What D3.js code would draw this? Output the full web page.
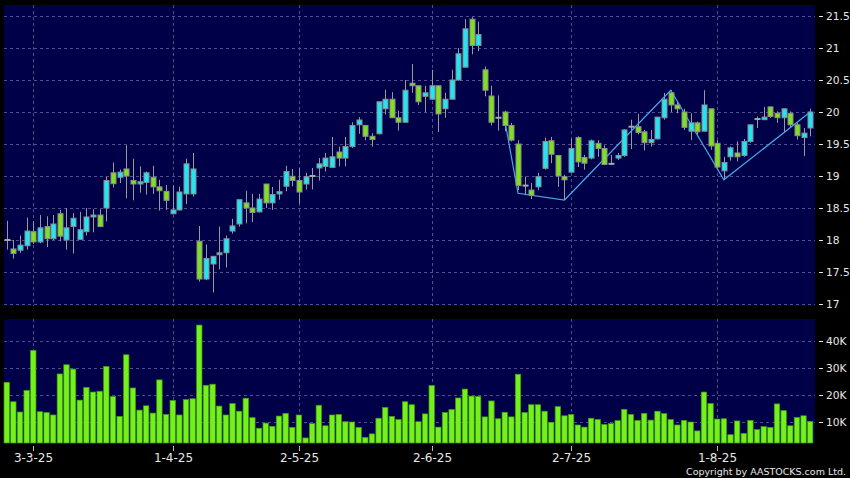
<!DOCTYPE html>
<html><head><meta charset="utf-8">
<script src="https://cdn.jsdelivr.net/npm/d3@7"></script>
<style>html,body{margin:0;padding:0;background:#000;overflow:hidden}svg{display:block}</style>
</head><body><svg id="c" width="850" height="478"></svg>
<script>
const dates = [
"2025-02-25","2025-02-26","2025-02-27","2025-02-28",
"2025-03-03","2025-03-04","2025-03-05","2025-03-06","2025-03-07","2025-03-10","2025-03-11","2025-03-12","2025-03-13","2025-03-14","2025-03-17","2025-03-18","2025-03-19","2025-03-20","2025-03-21","2025-03-24","2025-03-25","2025-03-26","2025-03-27","2025-03-28","2025-03-31",
"2025-04-01","2025-04-02","2025-04-03","2025-04-07","2025-04-08","2025-04-09","2025-04-10","2025-04-11","2025-04-14","2025-04-15","2025-04-16","2025-04-17","2025-04-22","2025-04-23","2025-04-24","2025-04-25","2025-04-28","2025-04-29","2025-04-30",
"2025-05-02","2025-05-06","2025-05-07","2025-05-08","2025-05-09","2025-05-12","2025-05-13","2025-05-14","2025-05-15","2025-05-16","2025-05-19","2025-05-20","2025-05-21","2025-05-22","2025-05-23","2025-05-26","2025-05-27","2025-05-28","2025-05-29","2025-05-30",
"2025-06-02","2025-06-03","2025-06-04","2025-06-05","2025-06-06","2025-06-09","2025-06-10","2025-06-11","2025-06-12","2025-06-13","2025-06-16","2025-06-17","2025-06-18","2025-06-19","2025-06-20","2025-06-23","2025-06-24","2025-06-25","2025-06-26","2025-06-27","2025-06-30",
"2025-07-02","2025-07-03","2025-07-04","2025-07-07","2025-07-08","2025-07-09","2025-07-10","2025-07-11","2025-07-14","2025-07-15","2025-07-16","2025-07-17","2025-07-18","2025-07-21","2025-07-22","2025-07-23","2025-07-24","2025-07-25","2025-07-28","2025-07-29","2025-07-30","2025-07-31",
"2025-08-01","2025-08-04","2025-08-05","2025-08-06","2025-08-07","2025-08-08","2025-08-11","2025-08-12","2025-08-13","2025-08-14","2025-08-15","2025-08-18","2025-08-19","2025-08-20","2025-08-21"];

const open = [18.0,17.86,17.84,17.91,
18.13,17.97,18.21,18.02,18.41,18.0,18.21,18.01,18.13,18.36,
18.39,18.5,19.05,18.98,19.11,18.93,18.875,18.9,18.98,18.83,
18.76,18.41,18.47,18.72,18.72,17.98,17.39,17.625,17.77,17.8,
18.14,18.25,18.58,18.5,18.44,18.875,18.58,18.72,18.84,18.995,
18.93,18.875,19.0,19.125,19.15,19.135,19.375,19.28,19.46,19.8,
19.79,19.62,19.66,20.05,20.2,19.91,19.84,20.45,20.41,20.245,
20.2,20.41,20.05,20.2,20.5,20.7,21.45,21.04,20.66,20.25,
19.91,
20.0,19.79,19.5,18.85,18.78,18.83,19.12,19.55,
19.32,18.99,19.06,19.6,19.29,19.28,19.51,19.43,19.19,19.28,
19.32,19.77,19.77,19.69,19.52,19.58,19.91,20.3,20.11,20.0,
19.7,19.83,19.7,20.05,19.51,19.08,19.3,19.36,19.32,19.54,
19.89,19.88,20.08,19.98,19.91,19.98,19.8,19.6,19.75];

const high = [18.3,18.0,18.07,18.35,
18.29,18.39,18.37,18.39,18.47,18.5,18.42,18.44,18.5,18.48,
18.48,18.99,19.21,19.1,19.48,19.27,19.15,19.07,19.16,18.94,
18.86,18.85,18.83,19.27,19.36,18.22,17.93,17.75,18.21,18.07,
18.33,18.63,18.77,18.72,18.72,18.875,18.83,18.94,19.16,19.11,
19.125,19.05,19.125,19.28,19.36,19.61,19.46,19.61,19.84,19.92,
19.8,19.67,20.16,20.35,20.31,20.02,20.5,20.75,20.41,20.41,
20.66,20.41,20.3,20.66,21.0,21.45,21.48,21.41,20.71,20.41,
20.26,
20.02,19.83,19.56,18.99,18.89,19.05,19.6,19.61,
19.33,19.02,19.58,19.62,19.33,19.57,19.56,19.48,19.33,19.36,
19.73,19.88,19.97,19.72,19.72,19.92,20.3,20.34,20.17,20.05,
19.98,19.85,20.34,20.05,19.56,19.3,19.46,19.54,19.58,19.8,
19.93,20.08,20.08,20.01,20.05,20.01,19.83,19.75,20.05];

const low = [17.85,17.71,17.8,17.85,
17.94,17.95,17.89,18.0,17.98,17.85,17.79,18.0,18.07,18.12,
18.2,18.29,18.82,18.89,18.65,18.62,18.74,18.71,18.72,18.46,
18.47,18.4,18.46,18.56,18.68,17.35,17.375,17.18,17.54,17.57,
18.1,18.21,18.26,18.28,18.43,18.5,18.47,18.63,18.76,18.84,
18.57,18.79,18.79,18.93,19.07,19.135,19.15,19.15,19.44,19.66,
19.56,19.46,19.65,19.96,19.91,19.71,19.84,20.3,20.11,20.0,
20.19,19.69,19.91,20.2,20.49,20.7,20.9,20.95,20.245,19.79,
19.71,
19.7,19.54,18.78,18.7,18.64,18.78,19.1,19.2,
18.83,18.625,19.05,19.14,19.1,19.26,19.3,19.17,19.17,19.25,
19.3,19.42,19.65,19.4,19.46,19.57,19.88,20.0,19.98,19.72,
19.56,19.62,19.7,19.41,19.1,18.94,19.24,19.23,19.3,19.52,
19.75,19.88,19.91,19.83,19.68,19.75,19.57,19.31,19.62];

const close = [18.0,17.79,17.92,18.14,
17.97,18.19,18.02,18.25,18.06,18.19,18.34,18.16,18.36,18.39,
18.21,18.93,18.88,19.06,19.0,18.875,18.91,19.05,18.83,18.77,
18.62,18.47,18.75,19.19,19.11,17.39,17.71,17.745,17.8,18.02,
18.22,18.63,18.5,18.43,18.64,18.58,18.71,18.755,19.07,18.93,
18.75,18.99,19.0,19.19,19.28,19.3,19.28,19.46,19.79,19.875,
19.62,19.57,20.16,20.2,19.91,19.84,20.34,20.41,20.16,20.3,
20.41,19.97,20.2,20.5,20.91,21.3,21.04,21.21,20.34,19.84,
19.91,
19.79,19.56,18.85,18.85,18.7,18.99,19.54,19.34,
19.0,18.94,19.43,19.22,19.2,19.55,19.43,19.18,19.19,19.32,
19.72,19.77,19.68,19.52,19.57,19.92,20.2,20.11,20.05,19.76,
19.83,19.69,20.11,19.47,19.14,19.21,19.44,19.3,19.54,19.8,
19.89,19.92,19.93,19.91,20.05,19.8,19.63,19.67,20.0];

const volume = [24700,17500,13700,21700,
36500,13800,13500,12600,27800,31200,29600,18100,22800,21100,
21400,30600,19400,12100,34900,22600,14400,16000,13300,25600,
12800,18000,12600,18300,18600,45900,23600,24000,15900,12600,
16800,14000,18800,11600,7700,9600,8400,12200,13200,8000,
12600,4100,9400,16200,8600,12600,12800,10100,10000,8000,
4300,5600,11400,15400,12100,10900,17500,16400,10100,13000,
23500,8100,13500,14600,18900,22200,19600,19500,11900,17800,
11200,
13600,11900,27700,13500,16400,16400,14000,9900,
15700,12300,12800,8900,8100,11400,10900,9100,9400,10500,
14700,12800,10600,13200,10700,14000,13100,10900,8900,10600,
10000,6700,21100,16800,11100,11200,5300,10400,5800,10600,
7200,8300,8000,16700,14200,8600,11700,12300,10200];

const tickDates = ["2025-03-03","2025-04-01","2025-05-02","2025-06-02","2025-07-02","2025-08-01"];
const tickLabels = ["3-3-25","1-4-25","2-5-25","2-6-25","2-7-25","1-8-25"];
const priceTicks = [17,17.5,18,18.5,19,19.5,20,20.5,21,21.5];
const priceLabels = ["17","17.5","18","18.5","19","19.5","20","20.5","21","21.5"];
const volumeTicks = [10000,20000,30000,40000];
const volumeLabels = ["10K","20K","30K","40K"];
const zigzagDates = ["2025-06-17","2025-06-19","2025-06-30","2025-07-23","2025-08-04","2025-08-21"];
const zigzagPrices = [19.875,18.73,18.625,20.34,18.94,20.0];

const svg = d3.select("#c");
const panelL = 4, panelR = 815;
const mainTop = 5, mainBot = 306, volTop = 319, volBot = 443;
const BG = "#000048", GRID = "#4e4e8e", TXT = "#e6e6e6";

const x = d3.scaleBand().domain(dates).range([3.4, 813.5]).padding(0);
const cx = d => x(d) + x.bandwidth() / 2;
const y = d3.scaleLinear().domain([17, 21.5]).range([304, 16]);
const v = d3.scaleLinear().domain([0, 40000]).range([449, 341]);

svg.append("rect").attr("width", 850).attr("height", 478).attr("fill", "#000");
svg.append("rect").attr("x", panelL).attr("y", mainTop).attr("width", panelR - panelL).attr("height", mainBot - mainTop).attr("fill", BG);
svg.append("rect").attr("x", panelL).attr("y", volTop).attr("width", panelR - panelL).attr("height", volBot - volTop).attr("fill", BG);

const grid = svg.append("g").attr("stroke", GRID).attr("stroke-width", 1).attr("stroke-dasharray", "3,3");
priceTicks.forEach(t => grid.append("line").attr("x1", panelL).attr("x2", panelR).attr("y1", Math.round(y(t)) + 0.5).attr("y2", Math.round(y(t)) + 0.5));
volumeTicks.forEach(t => grid.append("line").attr("x1", panelL).attr("x2", panelR).attr("y1", Math.round(v(t)) + 0.5).attr("y2", Math.round(v(t)) + 0.5));
tickDates.forEach(d => {
  const xx = Math.round(cx(d)) + 0.5;
  grid.append("line").attr("x1", xx).attr("x2", xx).attr("y1", mainTop).attr("y2", mainBot);
  grid.append("line").attr("x1", xx).attr("x2", xx).attr("y1", volTop).attr("y2", volBot);
});

const candles = dates.map((d, i) => ({d, o: open[i], h: high[i], l: low[i], c: close[i], vol: volume[i]}));

// volume bars
svg.append("g").selectAll("rect").data(candles).join("rect")
  .attr("x", c => cx(c.d) - 2.7).attr("width", 5.4)
  .attr("y", c => v(c.vol)).attr("height", c => volBot - v(c.vol))
  .attr("fill", "#74f01c").attr("stroke", "#3f9a10").attr("stroke-width", 0.7);

// wicks
const cg = svg.append("g");
cg.selectAll("line.w").data(candles).join("line").attr("class", "w")
  .attr("x1", c => Math.round(cx(c.d)) + 0.5).attr("x2", c => Math.round(cx(c.d)) + 0.5)
  .attr("y1", c => y(c.h)).attr("y2", c => y(c.l))
  .attr("stroke", "#9a9a9a").attr("stroke-width", 1);

// zigzag
const zz = zigzagDates.map((d, i) => [cx(d), y(zigzagPrices[i])]);
svg.append("path").attr("d", d3.line()(zz)).attr("fill", "none").attr("stroke", "#4aa6e6").attr("stroke-width", 1.2);

// bodies
const bodies = candles.filter(c => c.o !== c.c);
svg.append("g").selectAll("rect").data(bodies).join("rect")
  .attr("x", c => Math.round(cx(c.d)) - 2).attr("width", 5)
  .attr("y", c => y(Math.max(c.o, c.c))).attr("height", c => Math.max(1.5, Math.abs(y(c.o) - y(c.c))))
  .attr("fill", c => c.c > c.o ? "#22e4f2" : "#7ee01e")
  .attr("stroke", "#8c8c8c").attr("stroke-width", 1);
const dojis = candles.filter(c => c.o === c.c);
svg.append("g").selectAll("line").data(dojis).join("line")
  .attr("x1", c => Math.round(cx(c.d)) - 2.5).attr("x2", c => Math.round(cx(c.d)) + 3.5)
  .attr("y1", c => y(c.o)).attr("y2", c => y(c.o))
  .attr("stroke", "#a8a8a8").attr("stroke-width", 2);

// right axis labels
const ax = svg.append("g").attr("font-family", "DejaVu Sans, sans-serif").attr("font-size", "10.7px").attr("fill", TXT);
priceTicks.forEach((t, i) => {
  ax.append("line").attr("x1", 819).attr("x2", 823).attr("y1", Math.round(y(t)) + 0.5).attr("y2", Math.round(y(t)) + 0.5).attr("stroke", TXT);
  ax.append("text").attr("x", 826).attr("y", y(t)).attr("dy", "0.36em").text(priceLabels[i]);
});
volumeTicks.forEach((t, i) => {
  ax.append("line").attr("x1", 819).attr("x2", 823).attr("y1", Math.round(v(t)) + 0.5).attr("y2", Math.round(v(t)) + 0.5).attr("stroke", TXT);
  ax.append("text").attr("x", 826).attr("y", v(t)).attr("dy", "0.36em").text(volumeLabels[i]);
});

// x axis
const xa = svg.append("g").attr("font-family", "DejaVu Sans, sans-serif").attr("font-size", "12px").attr("fill", TXT).attr("text-anchor", "middle");
tickDates.forEach((d, i) => {
  const xx = Math.round(cx(d)) + 0.5;
  xa.append("line").attr("x1", xx).attr("x2", xx).attr("y1", 446).attr("y2", 451).attr("stroke", "#bbbbbb");
  xa.append("text").attr("x", xx).attr("y", 462).text(tickLabels[i]);
});

svg.append("text").attr("x", 846).attr("y", 475).attr("text-anchor", "end")
  .attr("font-family", "DejaVu Sans, sans-serif").attr("font-size", "9.5px").attr("fill", TXT)
  .text("Copyright by AASTOCKS.com Ltd.");
</script></body></html>
